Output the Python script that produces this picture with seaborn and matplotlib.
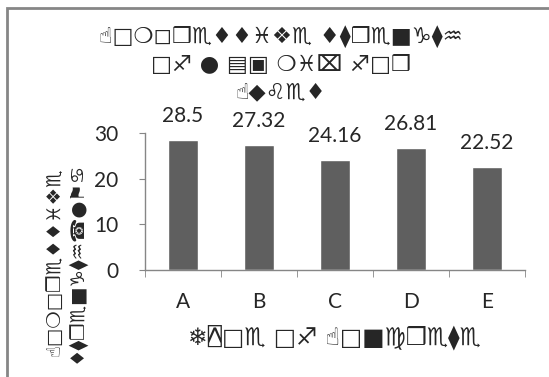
import matplotlib
matplotlib.use('Agg')
import matplotlib.pyplot as plt
from matplotlib.patches import Rectangle
import seaborn as sns
import pandas as pd

# data
categories = ['A', 'B', 'C', 'D', 'E']
strength = [28.5, 27.32, 24.16, 26.81, 22.52]
value_labels = ['28.5', '27.32', '24.16', '26.81', '22.52']
y_ticks = [0, 10, 20, 30]

# texts are drawn in a Wingdings-like symbol font in the original
title_text = '☝□❍◻❒♏♦♦♓❖♏ ♦⧫❒♏■♑⧫♒\n□♐ ● ▤▣ ❍♓⌧ ♐□❒\n☝◆♌♏♦'
x_title = '❄⍓□♏ □♐ ☝□■♍❒♏⧫♏'
y_title = '☝□❍□❒♏♦♦♓❖♏\n♦⧫❒♏■♑⧫♒☎●⚑♋'

df = pd.DataFrame({'cat': categories, 'val': strength})

sns.set_style('white')
plt.rcParams['font.family'] = ['Lato', 'DejaVu Sans']
sym_fonts = ['DejaVu Sans', 'DejaVu Sans Mono']

fig = plt.figure(figsize=(5.49, 3.77), dpi=100)
ax = fig.add_axes([145 / 549, 1 - 270 / 377, 380 / 549, 137 / 377])

sns.barplot(data=df, x='cat', y='val', color='#5f5f5f', saturation=1,
            width=0.4, ax=ax)

ax.set_ylim(0, 30)
ax.set_xlim(-0.5, 4.5)
ax.set_yticks(y_ticks)
ax.set_xlabel('')
ax.set_ylabel('')

for s in ['top', 'right']:
    ax.spines[s].set_visible(False)
for s in ['left', 'bottom']:
    ax.spines[s].set_color('#868686')
    ax.spines[s].set_linewidth(1)

ax.tick_params(axis='y', direction='out', length=4, color='#868686',
               labelsize=15, pad=15, left=True)
ax.tick_params(axis='x', which='major', length=0, labelsize=15, pad=16)
ax.set_xticks([-0.5, 0.5, 1.5, 2.5, 3.5, 4.5], minor=True)
ax.tick_params(axis='x', which='minor', direction='out', length=5,
               color='#868686', bottom=True)

ax.bar_label(ax.containers[0], labels=value_labels, padding=10, fontsize=15)

fig.text(281 / 549, 1 - 25 / 377, title_text, ha='center', va='top',
         fontsize=16, fontweight='bold', linespacing=1.45,
         family=sym_fonts)
fig.text(334 / 549, 1 - 337 / 377, x_title, ha='center', va='center',
         fontsize=17, fontweight='bold', family=sym_fonts)
fig.text(65 / 549, 1 - 262 / 377, y_title, ha='center', va='center',
         rotation=90, fontsize=14, fontweight='bold', linespacing=1.12,
         family=sym_fonts)

# chart area border (cropped at right and bottom)
fig.patches.append(Rectangle((7 / 549, -0.1), 1.2, 1 - 8 / 377 + 0.1,
                             transform=fig.transFigure, fill=False,
                             edgecolor='#868686', linewidth=2))

fig.savefig('out.png', dpi=100)
